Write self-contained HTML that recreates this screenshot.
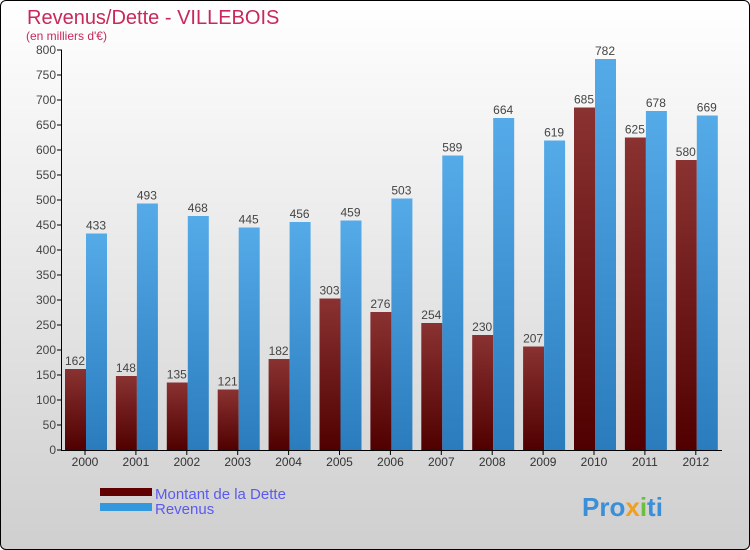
<!DOCTYPE html>
<html><head><meta charset="utf-8"><style>
body{margin:0;width:750px;height:550px;overflow:hidden;font-family:"Liberation Sans",sans-serif}
#wrap{position:absolute;left:0;top:0;width:748px;height:548px;border:1px solid #000;border-radius:6px;background:linear-gradient(#ffffff,#cfcfcf);overflow:hidden}
</style></head><body>
<div id="wrap">
<svg id="c" width="750" height="550" style="position:absolute;left:-1px;top:-1px">
<defs>
<linearGradient id="gd" x1="0" y1="0" x2="0" y2="1"><stop offset="0" stop-color="#8a3232"/><stop offset="1" stop-color="#500000"/></linearGradient>
<linearGradient id="gr" x1="0" y1="0" x2="0" y2="1"><stop offset="0" stop-color="#55aae8"/><stop offset="1" stop-color="#2a7cbc"/></linearGradient>
</defs>
<text x="27" y="24" font-size="20" fill="#c8285a">Revenus/Dette - VILLEBOIS</text>
<text x="26" y="40" font-size="12" fill="#c8285a">(en milliers d'€)</text>
<g id="g"></g>
<rect x="100" y="488" width="52" height="8" fill="#600000"/>
<rect x="100" y="503" width="52" height="8" fill="#3398dd"/>
<text x="155" y="499" font-size="15" fill="#5a5af0">Montant de la Dette</text>
<text x="155" y="514" font-size="15" fill="#5a5af0">Revenus</text>
<text x="582" y="516" font-size="26" font-weight="bold" fill="#3b8fd8">Pro<tspan fill="#f0a020">x</tspan><tspan fill="#6cbf3a">i</tspan>ti</text>
</svg>
</div>
<script>
const years=["2000","2001","2002","2003","2004","2005","2006","2007","2008","2009","2010","2011","2012"];
const dette=[162,148,135,121,182,303,276,254,230,207,685,625,580];
const revenus=[433,493,468,445,456,459,503,589,664,619,782,678,669];
const ticks=[0,50,100,150,200,250,300,350,400,450,500,550,600,650,700,750,800];
const NS="http://www.w3.org/2000/svg";
const g=document.getElementById('g');
const y=v=>450-v*0.5;
const xc=i=>85+i*50.9;
function mk(t,a){const e=document.createElementNS(NS,t);for(const k in a)e.setAttribute(k,a[k]);g.appendChild(e);return e;}
ticks.forEach(t=>{
 const l=mk('line',{x1:57,x2:62,y1:y(t),y2:y(t),stroke:'#000'});
 
 
 const tx=mk('text',{x:56,y:y(t)+4,'font-size':12,fill:'#444','text-anchor':'end'});tx.textContent=t;
 
 
});
years.forEach((yr,i)=>{
 const c=xc(i);
 const b1=mk('rect',{x:c-20,y:y(dette[i]),width:21,height:dette[i]*0.5,fill:'url(#gd)'});
 
 
 const b2=mk('rect',{x:c+1,y:y(revenus[i]),width:21,height:revenus[i]*0.5,fill:'url(#gr)'});
 
 
 const t1=mk('text',{x:c-10,y:y(dette[i])-4,'font-size':12,fill:'#444','text-anchor':'middle'});t1.textContent=dette[i];
 
 
 const t2=mk('text',{x:c+11,y:y(revenus[i])-4,'font-size':12,fill:'#444','text-anchor':'middle'});t2.textContent=revenus[i];
 
 
 const tk=mk('line',{x1:c,x2:c,y1:450,y2:455,stroke:'#000'});
 
 
 const xl=mk('text',{x:c,y:466,'font-size':12,fill:'#333','text-anchor':'middle'});xl.textContent=yr;
 
 
});
const ax=mk('line',{x1:61.5,x2:61.5,y1:50,y2:450.5,stroke:'#000'});


const bx=mk('line',{x1:61,x2:722,y1:450.5,y2:450.5,stroke:'#000'});


</script>
</body></html>
